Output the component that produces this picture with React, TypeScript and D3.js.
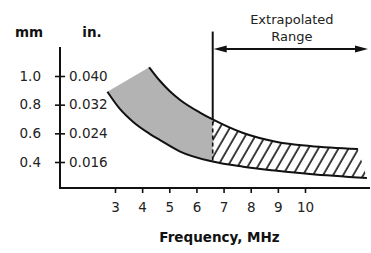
import * as React from "react"
import * as d3 from "d3"

// [frequency MHz, thickness mm]
const upperCurve: ReadonlyArray<[number, number]> = [
    [4.26, 1.061], [4.66, 0.965], [5.03, 0.892], [5.4, 0.833], [6.13, 0.745], [6.6, 0.697],
    [7.72, 0.602], [8.97, 0.54], [10.18, 0.512], [11.95, 0.491],
]
const lowerCurve: ReadonlyArray<[number, number]> = [
    [2.72, 0.89], [3.18, 0.77], [3.67, 0.679], [4.29, 0.595], [4.66, 0.553], [5.4, 0.473],
    [6.6, 0.403], [7.72, 0.367], [8.97, 0.339], [10.18, 0.316], [12.28, 0.288],
]
const freqTicks = [3, 4, 5, 6, 7, 8, 9, 10]
const mmTicks = [0.4, 0.6, 0.8, 1.0]
const mmLabels = ["0.4", "0.6", "0.8", "1.0"]
const inchLabels = ["0.016", "0.024", "0.032", "0.040"]
const extrapolatedFrom = 6.6
const markerTop = 1.31 // mm, top of the extrapolation marker line

const WIDTH = 371
const HEIGHT = 253
const FONT = "'DejaVu Sans', Verdana, sans-serif"

class ThicknessChart extends React.Component<{}, {}> {
    container: SVGSVGElement | null = null

    componentDidMount(): void {
        this.renderChart()
    }

    renderChart = (): void => {
        const svg = d3.select(this.container)
        svg.selectAll("*").remove()

        const x = d3.scaleLinear().domain([3, 10]).range([115, 305])
        const y = d3.scaleLinear().domain([0.4, 1.0]).range([162, 76])

        const originX = 60
        const originY = 188
        const axisTop = 47
        const axisRight = 370

        const defs = svg.append("defs")
        defs.append("pattern")
            .attr("id", "hatch")
            .attr("patternUnits", "userSpaceOnUse")
            .attr("width", 8.7)
            .attr("height", 10)
            .attr("patternTransform", "rotate(30)")
            .append("line")
            .attr("x1", 2).attr("x2", 2)
            .attr("y1", -1).attr("y2", 11)
            .attr("stroke", "#111")
            .attr("stroke-width", 1.6)

        const bx = x(extrapolatedFrom)
        defs.append("clipPath").attr("id", "measured")
            .append("rect").attr("x", 0).attr("y", 0).attr("width", bx).attr("height", HEIGHT)
        defs.append("clipPath").attr("id", "extrapolated")
            .append("rect").attr("x", bx).attr("y", 0).attr("width", WIDTH - bx).attr("height", HEIGHT)

        const line = d3.line<[number, number]>()
            .x(d => x(d[0]))
            .y(d => y(d[1]))
            .curve(d3.curveMonotoneX)

        const upperPath = line(upperCurve as [number, number][]) as string
        const lowerRev = line(lowerCurve.slice().reverse() as [number, number][]) as string
        // band outline: upper curve, drop to lower end, lower curve back, close
        const band = upperPath + "L" + lowerRev.slice(1) + "Z"

        svg.append("path")
            .attr("d", band)
            .attr("fill", "#b3b3b3")
            .attr("clip-path", "url(#measured)")

        svg.append("path")
            .attr("d", band)
            .attr("fill", "url(#hatch)")
            .attr("clip-path", "url(#extrapolated)")

        svg.append("path")
            .attr("d", upperPath)
            .attr("fill", "none")
            .attr("stroke", "#111")
            .attr("stroke-width", 2)
        svg.append("path")
            .attr("d", line(lowerCurve as [number, number][]) as string)
            .attr("fill", "none")
            .attr("stroke", "#111")
            .attr("stroke-width", 2)

        // extrapolation marker
        const upAt = upperCurve.find(d => d[0] === extrapolatedFrom) as [number, number]
        const lowAt = lowerCurve.find(d => d[0] === extrapolatedFrom) as [number, number]
        svg.append("line")
            .attr("x1", bx).attr("x2", bx)
            .attr("y1", y(markerTop)).attr("y2", y(upAt[1]))
            .attr("stroke", "#111").attr("stroke-width", 2)
        svg.append("line")
            .attr("x1", bx).attr("x2", bx)
            .attr("y1", y(upAt[1]) + 2).attr("y2", y(lowAt[1]))
            .attr("stroke", "#111").attr("stroke-width", 1.6)
            .attr("stroke-dasharray", "4,3")

        // range arrow
        const ay = 49
        const ax0 = bx + 1
        const ax1 = 368
        svg.append("line")
            .attr("x1", ax0 + 8).attr("x2", ax1 - 8)
            .attr("y1", ay).attr("y2", ay)
            .attr("stroke", "#111").attr("stroke-width", 2)
        svg.append("path")
            .attr("d", `M${ax0},${ay}L${ax0 + 13},${ay - 3.5}L${ax0 + 13},${ay + 3.5}Z`)
            .attr("fill", "#111")
        svg.append("path")
            .attr("d", `M${ax1},${ay}L${ax1 - 13},${ay - 3.5}L${ax1 - 13},${ay + 3.5}Z`)
            .attr("fill", "#111")

        const labelX = (ax0 + ax1) / 2 + 1
        svg.append("text")
            .attr("x", labelX).attr("y", 24)
            .attr("text-anchor", "middle")
            .style("font", `13px ${FONT}`).attr("fill", "#222")
            .text("Extrapolated")
        svg.append("text")
            .attr("x", labelX).attr("y", 41)
            .attr("text-anchor", "middle")
            .style("font", `13px ${FONT}`).attr("fill", "#222")
            .text("Range")

        // y axis: mm on the left, inches on the right
        const yLeft = d3.axisLeft(y)
            .tickValues(mmTicks)
            .tickFormat((_d, i) => mmLabels[i])
            .tickSizeInner(5)
            .tickSizeOuter(0)
            .tickPadding(14)
        const yRight = d3.axisRight(y)
            .tickValues(mmTicks)
            .tickFormat((_d, i) => inchLabels[i])
            .tickSizeInner(5)
            .tickSizeOuter(0)
            .tickPadding(4)

        const gl = svg.append("g").attr("transform", `translate(${originX},0)`).call(yLeft)
        const gr = svg.append("g").attr("transform", `translate(${originX},0)`).call(yRight)

        // x axis
        const xAxis = d3.axisBottom(x)
            .tickValues(freqTicks)
            .tickFormat(d3.format("d"))
            .tickSizeInner(5)
            .tickSizeOuter(0)
            .tickPadding(9)
        const gx = svg.append("g").attr("transform", `translate(0,${originY})`).call(xAxis)

        ;[gl, gr, gx].forEach(g => {
            g.select(".domain").remove()
            g.selectAll(".tick line").attr("stroke", "#111").attr("stroke-width", 1.6)
            g.selectAll(".tick text")
                .attr("fill", "#222")
                .style("font", `13.5px ${FONT}`)
        })

        svg.append("path")
            .attr("d", `M${originX},${axisTop}V${originY}H${axisRight}`)
            .attr("fill", "none")
            .attr("stroke", "#111")
            .attr("stroke-width", 2)

        // unit headers and axis title
        svg.append("text")
            .attr("x", 29).attr("y", 37)
            .attr("text-anchor", "middle")
            .style("font", `bold 13.5px ${FONT}`).attr("fill", "#111")
            .text("mm")
        svg.append("text")
            .attr("x", 92).attr("y", 37)
            .attr("text-anchor", "middle")
            .style("font", `bold 13.5px ${FONT}`).attr("fill", "#111")
            .text("in.")
        svg.append("text")
            .attr("x", 219.5).attr("y", 242)
            .attr("text-anchor", "middle")
            .style("font", `bold 13.5px ${FONT}`).attr("fill", "#111")
            .text("Frequency, MHz")
    }

    render(): JSX.Element {
        return (
            <svg
                ref={(el) => { this.container = el }}
                width={WIDTH}
                height={HEIGHT}
                style={{ position: "absolute", left: 0, top: 0, background: "#fff" }}
            />
        )
    }
}

export default function App(): JSX.Element {
    return <ThicknessChart />
}
